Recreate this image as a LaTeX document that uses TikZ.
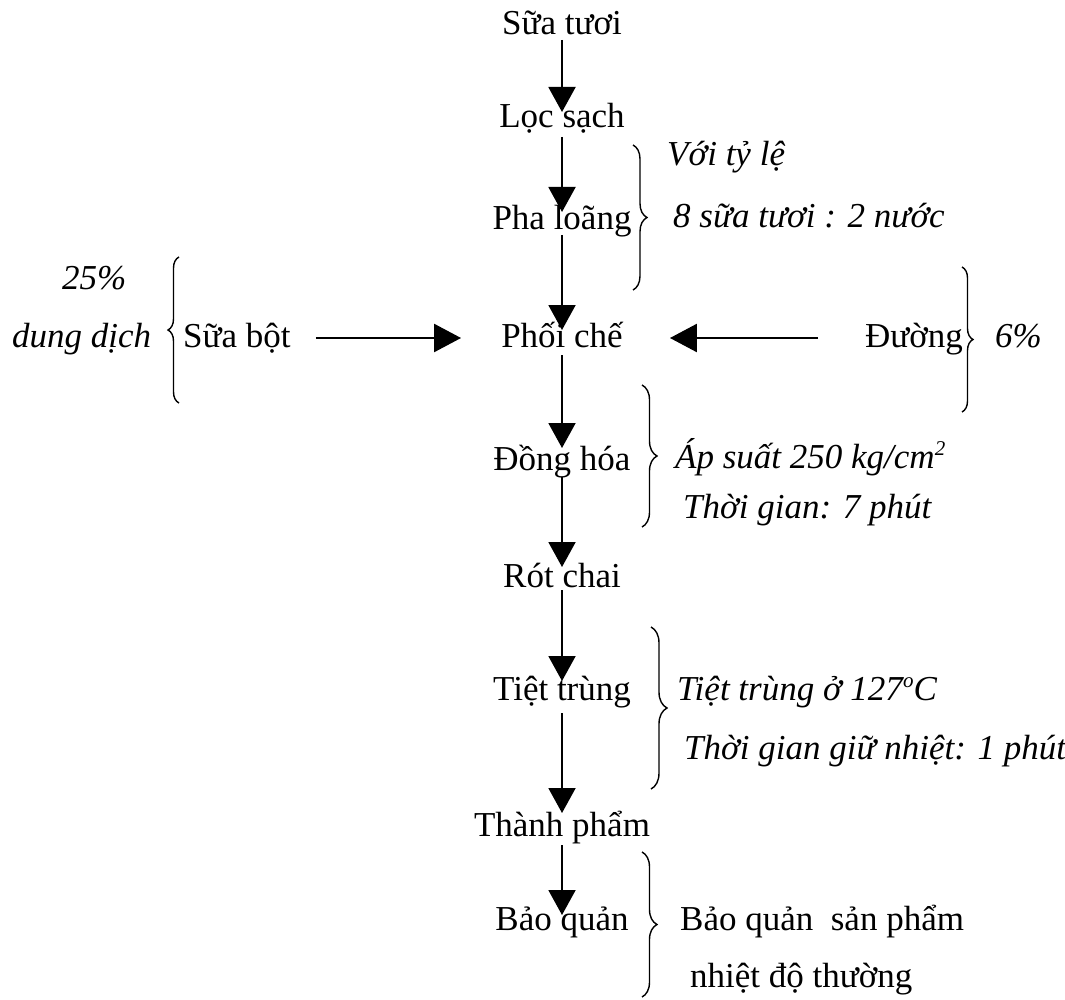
\documentclass[tikz,border=0pt]{standalone}
\usepackage{fontspec}
\setmainfont{Liberation Serif}
\usetikzlibrary{arrows.meta,decorations.pathreplacing}

\tikzset{
  txt/.style={inner sep=0pt, font=\fontsize{35}{42}\selectfont},
  stage/.style={txt, anchor=base},
  note/.style={txt, anchor=base west, font=\fontsize{35}{42}\selectfont\itshape},
  plainnote/.style={txt, anchor=base west},
  flow/.style={line width=2pt, -{Triangle[length=25pt,width=27pt]}},
  feed/.style={line width=2.5pt, -{Triangle[length=27pt,width=28pt]}},
  curly/.style={line width=1.4pt, decorate, decoration={brace, amplitude=#1}},
}
\newcommand{\smallsup}[1]{\raisebox{13pt}{\fontsize{21}{21}\selectfont #1}}

\begin{document}
\begin{tikzpicture}[x=1pt, y=-1pt]
\useasboundingbox (0,0) rectangle (1065,1000);

% main process column
\node[stage] (st) at (562,35)  {Sữa tươi};
\node[stage] (ls) at (562,128) {Lọc sạch};
\node[stage] (pl) at (562,230) {Pha loãng};
\node[stage] (pc) at (562,347) {Phối chế};
\node[stage] (dh) at (562,470) {Đồng hóa};
\node[stage] (rc) at (562,587) {Rót chai};
\node[stage] (tt) at (562,700) {Tiệt trùng};
\node[stage] (tp) at (562,836) {Thành phẩm};
\node[stage] (bq) at (562,930) {Bảo quản};

% side inputs
\node[txt, anchor=base west] (sb) at (183,347) {Sữa bột};
\node[txt, anchor=base west] (du) at (865,347) {Đường};

% annotations
\node[note] (n1a) at (667,166) {Với tỷ lệ};
\node[note] (n1b) at (673,228) {8 sữa tươi : 2 nước};
\node[note] (n2a) at (62,290)  {25\%};
\node[note] (n2b) at (12,347)  {dung dịch};
\node[note] (n3)  at (995,347) {6\%};
\node[note] (n4a) at (675,468) {Áp suất 250 kg/cm\smallsup{2}};
\node[note] (n4b) at (683,518) {Thời gian: 7 phút};
\node[note] (n5a) at (677,700) {Tiệt trùng ở 127\smallsup{o}C};
\node[note] (n5b) at (684,759) {Thời gian giữ nhiệt: 1 phút};
\node[plainnote] (n6a) at (680,930) {Bảo quản\ \ sản phẩm};
\node[plainnote] (n6b) at (690,987) {nhiệt độ thường};

% vertical flow arrows
\draw[flow] ([yshift=-5pt]st.base) -- ([yshift=16pt]ls.base);
\draw[flow] ([yshift=-9pt]ls.base) -- ([yshift=18pt]pl.base);
\draw[flow] ([yshift=-5pt]pl.base) -- ([yshift=17pt]pc.base);
\draw[flow] ([yshift=-8pt]pc.base) -- ([yshift=22pt]dh.base);
\draw[flow] ([yshift=-7pt]dh.base) -- ([yshift=20pt]rc.base);
\draw[flow] ([yshift=-3pt]rc.base) -- ([yshift=19pt]tt.base);
\draw[flow] ([yshift=-13pt]tt.base) -- ([yshift=23pt]tp.base);
\draw[flow] ([yshift=-9pt]tp.base) -- ([yshift=15pt]bq.base);

% horizontal feed arrows
\draw[feed] ([xshift=25pt,yshift=9pt]sb.base east) -- ([xshift=-40pt,yshift=9pt]pc.base west);
\draw[feed] ([xshift=-47pt,yshift=9pt]du.base west) -- ([xshift=47pt,yshift=9pt]pc.base east);

% braces
\draw[curly=14pt] (633,145) -- (633,290);
\draw[curly=11pt] (179,403) -- (179,257);
\draw[curly=11pt] (962,267) -- (962,412);
\draw[curly=15pt] (642,385) -- (642,527);
\draw[curly=16pt] (651,627) -- (651,789);
\draw[curly=15pt] (642,852) -- (642,997);
\end{tikzpicture}
\end{document}
